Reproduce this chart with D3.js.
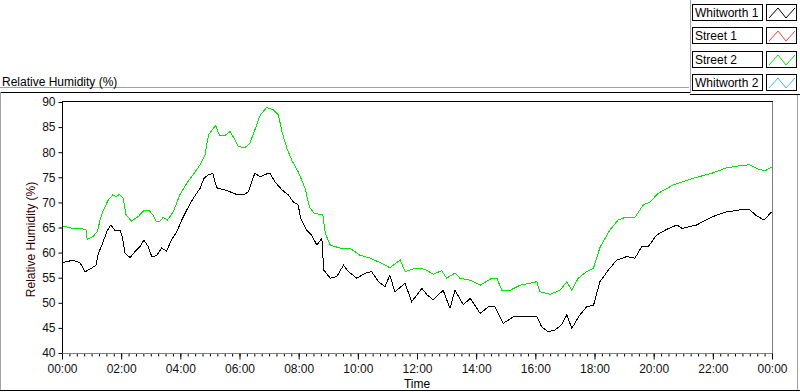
<!DOCTYPE html>
<html>
<head>
<meta charset="utf-8">
<script src="https://cdn.jsdelivr.net/npm/d3@7"></script>
<style>
body{margin:0;background:#fff;overflow:hidden;}
text{font-family:"Liberation Sans",Arial,sans-serif;font-size:12px;}
</style>
</head>
<body>
<div id="chartplace"></div>
<script>
// minutes after midnight / relative humidity (%)
var w1Time = [1,23,37,47,60,69,74,81,91,99, 107,118,123,128,138,148,158,166,175,182,
	192,202,212,222,233,243,253,266,280,288, 297,306,310,315,327,341,354,368,378,385,
	391,402,412,422,432,446,459,469,479,484, 496,506,517,527,531,544,557,571,581,598,
	615,628,642,655,665,675,696,709,720,730, 740,753,773,787,797,814,828,848,865,878,
	895,915,943,963,973,986,1000,1013,1024,1034, 1049,1064,1078,1091,1108,1125,1145,1162,1176,1189,
	1206,1226,1247,1258,1287,1308,1328,1348,1375,1395, 1409,1424,1439];
var w1Value = [58.0,58.5,57.9,56.2,56.9,57.5,59.9,61.5,64.2,65.5, 64.5,64.5,62.8,59.9,59.0,60.2,61.2,62.5,61.2,59.2,
	59.4,60.9,60.3,62.5,64.2,66.5,68.5,70.8,72.8,74.8, 75.5,75.8,74.1,72.8,72.6,72.1,71.6,71.5,72.1,74.1,
	75.8,75.1,75.6,75.8,74.1,72.5,71.5,70.1,69.5,66.8, 64.5,63.5,61.5,62.8,56.5,54.9,55.2,57.5,56.2,54.9,
	55.9,56.2,54.2,53.2,55.5,52.2,53.9,50.2,51.6,52.9, 51.6,50.6,52.5,48.9,52.5,49.6,50.9,47.9,49.2,49.2,
	45.9,47.2,47.2,47.2,45.2,44.2,44.6,45.6,47.6,44.9, 47.4,49.2,49.5,54.2,56.5,58.5,59.2,58.9,61.2,61.2,
	63.5,64.6,65.5,64.8,65.5,66.6,67.5,68.1,68.5,68.5, 67.3,66.5,68.1];

var s2Time = [1,22,40,49,51,63,72,77,84,94, 103,110,116,124,130,141,155,165,177,185,
	191,199,205,214,226,239,253,266,280,290, 297,304,312,319,331,341,347,358,371,381,
	391,402,415,429,439,446,456,466,479,493, 502,512,529,534,544,564,584,604,625,645,
	665,686,696,716,736,753,770,780,797,807, 828,848,872,882,892,909,929,949,963,969,
	990,1010,1024,1034,1047,1064,1078,1091,1111,1128, 1142,1162,1179,1193,1209,1240,1280,1321,1348,1375,
	1395,1412,1426,1439];
var s2Value = [65.3,64.8,64.8,64.5,62.6,63.2,64.2,66.5,68.5,70.5, 71.5,71.1,71.6,70.8,67.5,66.3,67.2,68.3,68.3,67.5,
	66.2,66.3,67.0,66.5,68.2,71.5,73.8,75.5,77.5,79.4, 83.4,84.4,85.3,83.4,83.4,84.1,83.1,81.1,80.9,81.8,
	84.4,87.4,88.9,88.4,87.4,84.1,80.8,78.4,76.1,72.8, 69.0,67.8,67.5,63.8,61.5,60.9,60.9,59.5,58.9,58.0,
	57.0,58.5,56.2,56.9,56.7,55.7,56.4,54.9,55.9,54.9, 54.5,53.5,54.9,54.9,52.5,52.5,53.5,53.9,54.2,52.2,
	51.7,52.5,54.2,52.5,54.9,56.2,56.9,61.0,64.5,66.5, 67.0,67.0,69.5,70.1,71.8,73.5,74.8,75.9,76.9,77.3,
	77.5,76.6,76.3,77.0];

var legendNames = ["Whitworth 1", "Street 1", "Street 2", "Whitworth 2"];
var legendColors = ["#000000", "#ff3c3c", "#00e600", "#3cb4ff"];
var xTicks = [0,120,240,360,480,600,720,840,960,1080,1200,1320,1440];
var yTicks = [40,45,50,55,60,65,70,75,80,85,90];

var svgWidth = 800;
var svgHeight = 392;
var plotLeft = 62, plotRight = 772, plotTop = 102, plotBottom = 353;

var svg = d3.select("#chartplace").append("svg")
	.attr("width", svgWidth).attr("height", svgHeight);

var x = d3.scaleLinear().domain([0, 1440]).range([plotLeft, plotRight]);
var y = d3.scaleLinear().domain([40, 90]).range([plotBottom, plotTop]);

function hhmm(m){
	m = m % 1440;
	return d3.format("02")(Math.floor(m / 60)) + ":" + d3.format("02")(m % 60);
}

// outer panel lines
svg.append("line").attr("x1", 0).attr("x2", 689).attr("y1", 87.5).attr("y2", 87.5).attr("stroke", "#a0a0a0");
svg.append("line").attr("x1", 0).attr("x2", 690).attr("y1", 92.5).attr("y2", 92.5).attr("stroke", "#000");
svg.append("line").attr("x1", 690.5).attr("x2", 690.5).attr("y1", 0).attr("y2", 93).attr("stroke", "#a0a0a0");
svg.append("line").attr("x1", 690).attr("x2", 800).attr("y1", 94.5).attr("y2", 94.5).attr("stroke", "#000");
svg.append("line").attr("x1", 0.5).attr("x2", 0.5).attr("y1", 92).attr("y2", 391).attr("stroke", "#a0a0a0");
svg.append("line").attr("x1", 797.5).attr("x2", 797.5).attr("y1", 95).attr("y2", 391).attr("stroke", "#a0a0a0");
svg.append("line").attr("x1", 0).attr("x2", 800).attr("y1", 390.5).attr("y2", 390.5).attr("stroke", "#000");

svg.append("text").attr("x", 2).attr("y", 86).attr("fill", "#000").text("Relative Humidity (%)");

// plot frame
svg.append("line").attr("x1", plotLeft).attr("x2", plotRight + 1).attr("y1", plotTop - 0.5).attr("y2", plotTop - 0.5).attr("stroke", "#000");
svg.append("line").attr("x1", plotRight + 0.5).attr("x2", plotRight + 0.5).attr("y1", plotTop).attr("y2", plotBottom).attr("stroke", "#808080");

// axes
var yAxis = svg.append("g").attr("transform", "translate(" + (plotLeft + 0.5) + ",0)")
	.call(d3.axisLeft(y).tickValues(yTicks).tickSize(4).tickPadding(3));
yAxis.select(".domain").attr("d", "M0," + (plotTop - 1) + "V" + plotBottom).attr("stroke", "#000");
yAxis.selectAll("text").attr("fill", "#111").style("font-size", "12px").style("font-family", "Liberation Sans, Arial, sans-serif");

var minor = d3.range(0, 1441, 15);
var xMinor = svg.append("g").attr("transform", "translate(0," + (plotBottom + 0.5) + ")")
	.call(d3.axisBottom(x).tickValues(minor).tickSize(3).tickFormat(""));
xMinor.select(".domain").remove();
xMinor.selectAll("line").attr("stroke", "#000");

var xAxis = svg.append("g").attr("transform", "translate(0," + (plotBottom + 0.5) + ")")
	.call(d3.axisBottom(x).tickValues(xTicks).tickSize(6).tickPadding(5).tickFormat(hhmm));
xAxis.select(".domain").attr("d", "M" + plotLeft + ",0H" + (plotRight + 1)).attr("stroke", "#808080");
xAxis.selectAll("text").attr("fill", "#111").style("font-size", "12px").style("font-family", "Liberation Sans, Arial, sans-serif");

svg.append("text").attr("x", (plotLeft + plotRight) / 2).attr("y", 388).attr("text-anchor", "middle").text("Time");
svg.append("text").attr("transform", "translate(35," + ((plotTop + plotBottom) / 2 + 12) + ") rotate(-90)")
	.attr("text-anchor", "middle").attr("fill", "#300000").text("Relative Humidity (%)");

// series (aliased 1px lines like the original)
var line = d3.line()
	.x(function(d){ return x(d[0]); })
	.y(function(d){ return y(d[1]); });

var s2 = d3.zip(s2Time, s2Value);
var w1 = d3.zip(w1Time, w1Value);

svg.append("path").attr("d", line(s2)).attr("stroke", legendColors[2]).attr("stroke-width", 1)
	.attr("shape-rendering", "crispEdges").attr("fill", "none");
svg.append("path").attr("d", line(w1)).attr("stroke", legendColors[0]).attr("stroke-width", 1)
	.attr("shape-rendering", "crispEdges").attr("fill", "none");

// legend
var lg = svg.selectAll(".lg").data(legendNames).enter().append("g")
	.attr("class", "lg")
	.attr("transform", function(d, i){ return "translate(0," + (4 + Math.round(i * 23.4)) + ")"; });
lg.append("rect").attr("x", 692.5).attr("y", 0.5).attr("width", 70).attr("height", 16)
	.attr("fill", "#fff").attr("stroke", "#000");
lg.append("text").attr("x", 695).attr("y", 13).text(function(d){ return d; });
lg.append("rect").attr("x", 766.5).attr("y", 0.5).attr("width", 30).attr("height", 16)
	.attr("fill", "#fff").attr("stroke", "#000");
lg.append("path").attr("d", "M769,14L778,4L786,14L795,4")
	.attr("fill", "none")
	.attr("stroke", function(d, i){ return legendColors[i]; });
</script>
</body>
</html>
